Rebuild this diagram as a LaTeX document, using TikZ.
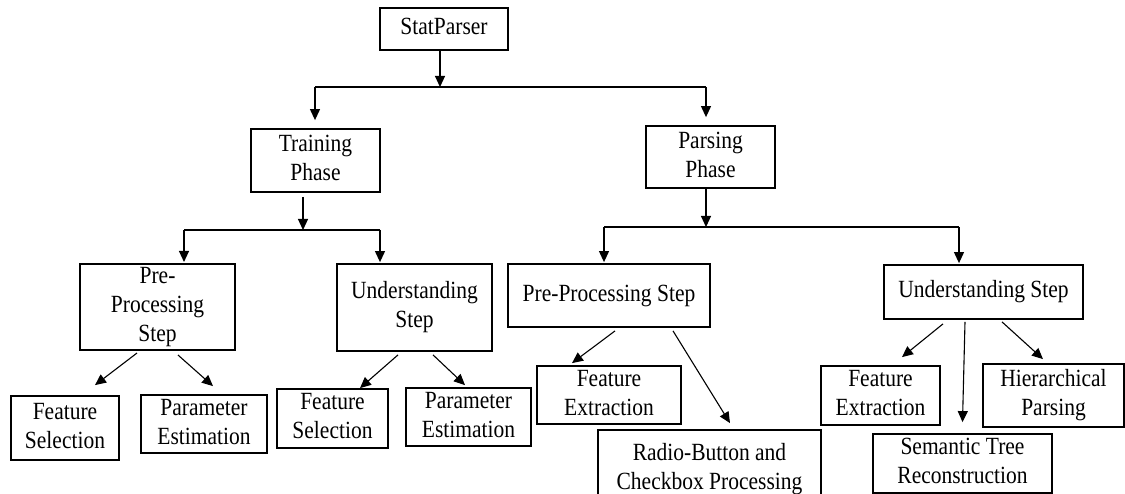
\documentclass[tikz,border=0pt]{standalone}
\usepackage{fontspec}
\usepackage{graphicx}
\setmainfont{Liberation Serif}
\usetikzlibrary{arrows.meta}
% box label: centred lines, set slightly tall
\newcommand{\lbl}[1]{\scalebox{1}[1.15]{\begin{tabular}{@{}c@{}}#1\end{tabular}}}
\begin{document}
\begin{tikzpicture}[x=1pt,y=-1pt,
  box/.style={draw=black,line width=1.8pt,fill=white,inner sep=0pt,
    font=\fontsize{21.5}{25}\selectfont},
  link/.style={line width=1.1pt},
  arr/.style={link,-{Triangle[length=11pt,width=10pt]}}]
\useasboundingbox (0,0) rectangle (1125,494);

% top level
\node[box,minimum width=128pt,minimum height=42pt] (stat) at (444,29) {\lbl{StatParser}};
\node[box,minimum width=129pt,minimum height=63pt] (train) at (315.5,160.5) {\lbl{Training\\Phase}};
\node[box,minimum width=129pt,minimum height=62pt] (parse) at (710.5,157) {\lbl{Parsing\\Phase}};

% training phase branch
\node[box,minimum width=155pt,minimum height=86pt] (tpre) at (157.5,307) {\raisebox{-4pt}{\lbl{Pre-\\Processing\\Step}}};
\node[box,minimum width=155pt,minimum height=87pt] (tund) at (414.5,307.5) {\lbl{Understanding\\Step}};
\node[box,minimum width=108pt,minimum height=64pt] (fs1) at (65,428) {\lbl{Feature\\Selection}};
\node[box,minimum width=126pt,minimum height=58pt] (pe1) at (204,424) {\lbl{Parameter\\Estimation}};
\node[box,minimum width=111pt,minimum height=59pt] (fs2) at (332.5,418.5) {\lbl{Feature\\Selection}};
\node[box,minimum width=125pt,minimum height=58pt] (pe2) at (468.5,417) {\lbl{Parameter\\Estimation}};

% parsing phase branch
\node[box,minimum width=202pt,minimum height=63pt] (ppre) at (609,295.5) {\lbl{Pre-Processing Step}};
\node[box,minimum width=199pt,minimum height=54pt] (pund) at (983.5,292) {\lbl{Understanding Step}};
\node[box,minimum width=144pt,minimum height=58pt] (fe1) at (609,395) {\lbl{Feature\\Extraction}};
\node[box,minimum width=223pt,minimum height=78pt] (radio) at (709.5,469) {\lbl{Radio-Button and\\Checkbox Processing}};
\node[box,minimum width=119pt,minimum height=59pt] (fe2) at (880.5,395.5) {\lbl{Feature\\Extraction}};
\node[box,minimum width=141pt,minimum height=63pt] (hier) at (1053.5,395.5) {\lbl{Hierarchical\\Parsing}};
\node[box,minimum width=179pt,minimum height=59pt] (sem) at (962.5,463.5) {\lbl{Semantic Tree\\Reconstruction}};

% bus junctions
\coordinate (b0) at (440,87);
\coordinate (b0l) at (315,87);
\coordinate (b0r) at (706,87);
\coordinate (b1) at (303,230);
\coordinate (b1l) at (184,230);
\coordinate (b1r) at (380,230);
\coordinate (b2) at (706,227);
\coordinate (b2l) at (604,227);
\coordinate (b2r) at (959,227);

% StatParser -> phases
\draw[arr] (stat.south -| b0) -- (b0);
\draw[link] (b0l) -- (b0r);
\draw[arr,shorten >=8pt] (b0l) -- (b0l |- train.north);
\draw[arr,shorten >=8pt] (b0r) -- (b0r |- parse.north);

% Training Phase -> steps
\draw[arr,shorten <=4pt] (train.south -| b1) -- (b1);
\draw[link] (b1l) -- (b1r);
\draw[arr,shorten >=1pt] (b1l) -- (b1l |- tpre.north);
\draw[arr,shorten >=1pt] (b1r) -- (b1r |- tund.north);

% Parsing Phase -> steps
\draw[arr] (parse.south -| b2) -- (b2);
\draw[link] (b2l) -- (b2r);
\draw[arr,shorten >=1pt] (b2l) -- (b2l |- ppre.north);
\draw[arr,shorten >=1pt] (b2r) -- (b2r |- pund.north);

% leaves of the training phase
\draw[arr] ([xshift=-20.5pt,yshift=-2pt]tpre.south) -- ([xshift=30pt,yshift=10pt]fs1.north);
\draw[arr] ([xshift=20.5pt,yshift=-4pt]tpre.south) -- ([xshift=9pt,yshift=8pt]pe1.north);
\draw[arr] ([xshift=-16.5pt,yshift=-3pt]tund.south) -- ([xshift=27.5pt,yshift=0pt]fs2.north);
\draw[arr] ([xshift=18.5pt,yshift=-3pt]tund.south) -- ([xshift=-3.5pt,yshift=2pt]pe2.north);

% leaves of the parsing phase
\draw[arr] ([xshift=6pt,yshift=-3pt]ppre.south) -- ([xshift=-37pt,yshift=2pt]fe1.north);
\draw[arr] ([xshift=64pt,yshift=-3pt]ppre.south) -- ([xshift=20.5pt,yshift=6pt]radio.north);
\draw[arr] ([xshift=-40.5pt,yshift=-4pt]pund.south) -- ([xshift=21.5pt,yshift=8pt]fe2.north);
\draw[arr] ([xshift=-18.5pt,yshift=-2pt]pund.south) -- ([yshift=11pt]sem.north);
\draw[arr] ([xshift=18.5pt,yshift=-2pt]pund.south) -- ([xshift=-10.5pt,yshift=4pt]hier.north);
\end{tikzpicture}
\end{document}
